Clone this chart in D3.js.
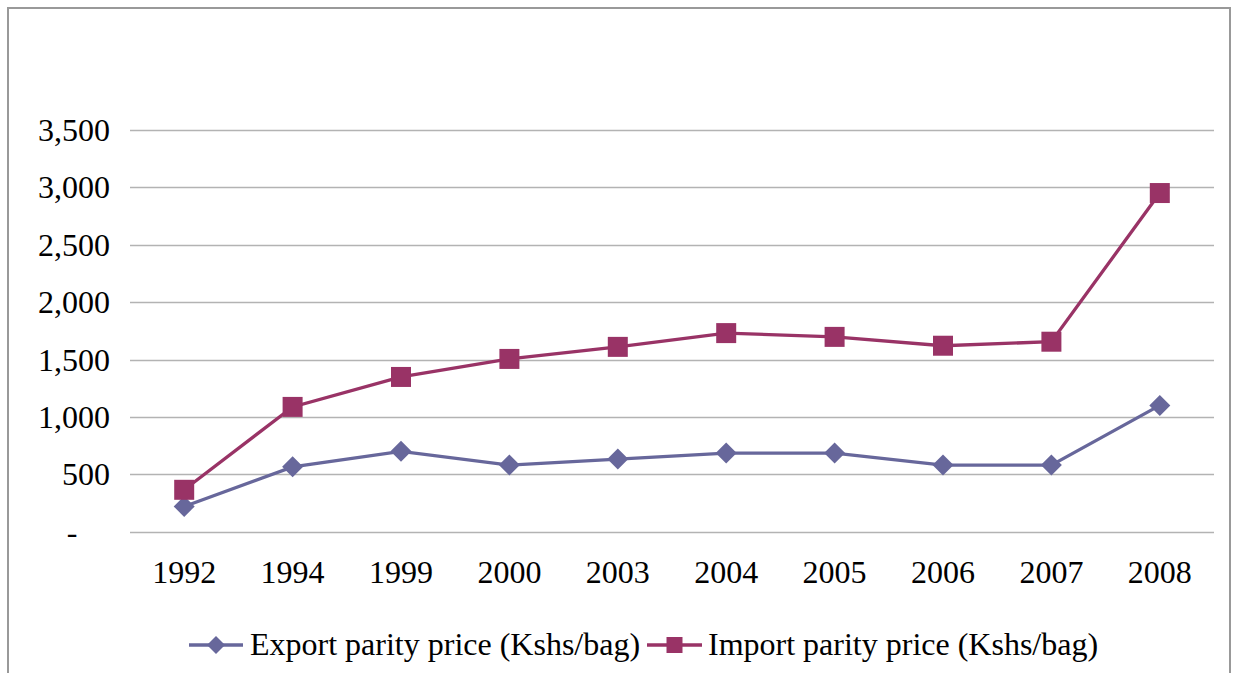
<!DOCTYPE html>
<html><head><meta charset="utf-8">
<script src="https://cdn.jsdelivr.net/npm/d3@7"></script>
<style>body{margin:0;background:#fff;}svg{display:block;font-family:"Liberation Serif","Times New Roman",serif;}</style>
</head><body>
<svg id="c" width="1235" height="673"></svg>
<script>
const years = ["1992","1994","1999","2000","2003","2004","2005","2006","2007","2008"];
const exportPrice = [220, 565, 700, 580, 633, 685, 685, 580, 580, 1100];
const importPrice = [365, 1087, 1348, 1505, 1610, 1730, 1697, 1620, 1655, 2950];
const yTicks = [0, 500, 1000, 1500, 2000, 2500, 3000, 3500];
const seriesNames = ["Export parity price (Kshs/bag)", "Import parity price (Kshs/bag)"];
const colors = ["#67679B", "#993366"];
const FS = 32;

const svg = d3.select("#c");
// frame
svg.append("path").attr("d","M8,700 L8,8 L1230,8 L1230,700")
  .attr("fill","none").attr("stroke","#999").attr("stroke-width",2);

const x = d3.scaleBand().domain(years).range([130,1214]);
const y = d3.scaleLinear().domain([0,3500]).range([531.7,129.9]);

// gridlines
svg.append("g").selectAll("line").data(yTicks).join("line")
  .attr("x1",130).attr("x2",1214)
  .attr("y1",d=>Math.round(y(d))+0.5).attr("y2",d=>Math.round(y(d))+0.5)
  .attr("stroke","#b3b3b3").attr("stroke-width",1.3);

// y labels
const fmt = d3.format(",");
svg.append("g").selectAll("text").data(yTicks).join("text")
  .attr("x",d=>d===0?72:110).attr("y",d=>y(d)+11)
  .attr("text-anchor",d=>d===0?"middle":"end")
  .attr("font-size",FS).attr("fill","#000")
  .text(d=>d===0?"-":fmt(d));

// x labels
svg.append("g").selectAll("text").data(years).join("text")
  .attr("x",d=>x(d)+x.bandwidth()/2).attr("y",583)
  .attr("text-anchor","middle").attr("font-size",FS).attr("fill","#000")
  .text(d=>d);

const line = d3.line().x((d,i)=>x(years[i])+x.bandwidth()/2).y(d=>y(d));
const diamond = s => `M0,${-s}L${s},0L0,${s}L${-s},0Z`;

[exportPrice, importPrice].forEach((vals,k)=>{
  svg.append("path").datum(vals).attr("d",line)
    .attr("fill","none").attr("stroke",colors[k]).attr("stroke-width",3.3);
  const g = svg.append("g");
  g.selectAll("path").data(vals).join("path")
    .attr("transform",(d,i)=>`translate(${x(years[i])+x.bandwidth()/2},${y(d)})`)
    .attr("d",k===0?diamond(10.5):"M-10,-10H10V10H-10Z")
    .attr("fill",colors[k]);
});

// legend
const leg = [{x0:189,x1:243,tx:250},{x0:647,x1:702,tx:708}];
leg.forEach((l,k)=>{
  const cy = 645;
  svg.append("line").attr("x1",l.x0).attr("x2",l.x1).attr("y1",cy).attr("y2",cy)
    .attr("stroke",colors[k]).attr("stroke-width",3.3);
  svg.append("path").attr("transform",`translate(${(l.x0+l.x1)/2},${cy})`)
    .attr("d",k===0?diamond(9):"M-8,-8H8V8H-8Z").attr("fill",colors[k]);
  svg.append("text").attr("x",l.tx).attr("y",cy+10).attr("font-size",FS).attr("fill","#000")
    .text(seriesNames[k]);
});
</script>
</body></html>
